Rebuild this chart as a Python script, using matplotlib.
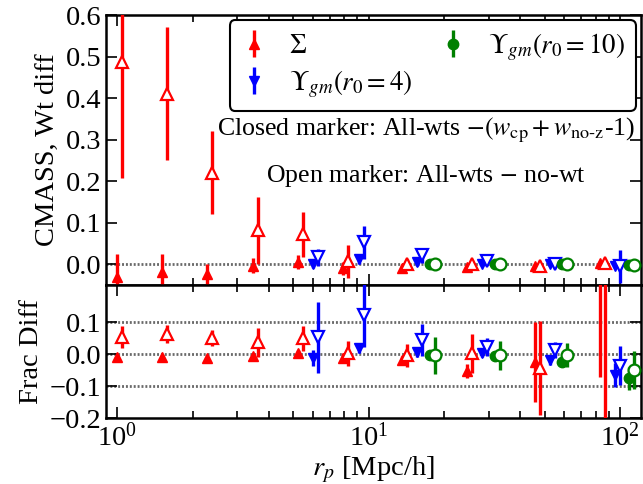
import numpy as np
import matplotlib
matplotlib.use("Agg")
import matplotlib.pyplot as plt
from matplotlib.ticker import MultipleLocator

plt.rcParams['font.family'] = ['Liberation Serif', 'DejaVu Serif']
plt.rcParams['mathtext.fontset'] = 'stix'

# ---- data ----
sig_rp = [1.0, 1.51, 2.28, 3.46, 5.22, 7.88, 13.6, 24.7, 45.7, 83.0]
sig_closed = [-0.030, -0.019, -0.024, -0.003, 0.005, -0.010, -0.010, -0.007, -0.003, 0.003]
sig_closed_err = [0.056, 0.043, 0.026, 0.018, 0.017, 0.015, 0.010, 0.006, 0.005, 0.005]
sig_open = [0.487, 0.41, 0.22, 0.082, 0.072, 0.007, 0.0, 0.002, -0.003, 0.003]
sig_open_err = [0.28, 0.16, 0.10, 0.08, 0.055, 0.04, 0.012, 0.008, 0.006, 0.006]

ups4_rp = [6.0, 9.13, 15.5, 28.3, 52.7, 95.5]
ups4_closed = [0.0, 0.012, 0.005, 0.002, 0.0, -0.003]
ups4_closed_err = [0.01, 0.012, 0.008, 0.005, 0.004, 0.003]
ups4_open = [0.017, 0.053, 0.022, 0.007, 0.0, -0.005]
ups4_open_err = [0.02, 0.04, 0.018, 0.008, 0.005, 0.04]

ups10_rp = [17.5, 31.9, 58.9, 108.6]
ups10_closed = [0.0, 0.0, 0.0, -0.002]
ups10_closed_err = [0.004, 0.003, 0.003, 0.002]
ups10_open = [0.0, 0.0, 0.0, -0.001]
ups10_open_err = [0.003, 0.003, 0.003, 0.002]

sig_closed_frac = [-0.008, -0.008, -0.012, -0.005, 0.003, -0.012, -0.018, -0.053, -0.025, 0.35]
sig_closed_frac_err = [0.005, 0.005, 0.005, 0.008, 0.01, 0.015, 0.012, 0.022, 0.125, 0.42]
sig_open_frac = [0.055, 0.064, 0.052, 0.038, 0.05, 0.003, -0.003, 0.003, -0.043, -0.5]
sig_open_frac_err = [0.035, 0.028, 0.025, 0.045, 0.038, 0.04, 0.037, 0.06, 0.148, 0.9]

ups4_closed_frac = [-0.012, 0.02, 0.007, 0.003, -0.018, -0.065]
ups4_closed_frac_err = [0.025, 0.016, 0.015, 0.012, 0.015, 0.037]
ups4_open_frac = [0.053, 0.123, 0.045, 0.023, 0.013, -0.035]
ups4_open_frac_err = [0.11, 0.1, 0.05, 0.028, 0.025, 0.06]

ups10_closed_frac = [-0.003, -0.005, -0.025, -0.075]
ups10_closed_frac_err = [0.015, 0.015, 0.015, 0.036]
ups10_open_frac = [-0.003, -0.003, -0.003, -0.05]
ups10_open_frac_err = [0.058, 0.046, 0.038, 0.06]

open_shift = 1.047

series = [
    (sig_rp, 'red', '^', r'$\Sigma$',
     sig_closed, sig_closed_err, sig_open, sig_open_err,
     sig_closed_frac, sig_closed_frac_err, sig_open_frac, sig_open_frac_err),
    (ups4_rp, 'blue', 'v', r'$\Upsilon_{gm}(r_0=4)$',
     ups4_closed, ups4_closed_err, ups4_open, ups4_open_err,
     ups4_closed_frac, ups4_closed_frac_err, ups4_open_frac, ups4_open_frac_err),
    (ups10_rp, 'green', 'o', r'$\Upsilon_{gm}(r_0=10)$',
     ups10_closed, ups10_closed_err, ups10_open, ups10_open_err,
     ups10_closed_frac, ups10_closed_frac_err, ups10_open_frac, ups10_open_frac_err),
]

fig = plt.figure(figsize=(6.43, 4.84), dpi=100)
gs = fig.add_gridspec(2, 1, height_ratios=[270, 133], hspace=0,
                      left=0.165, right=0.997, top=0.969, bottom=0.136)
ax1 = fig.add_subplot(gs[0])
ax2 = fig.add_subplot(gs[1], sharex=ax1)

ms = 7.5
lw = 2.4
handles = []
for (rp, c, m, lab, yc, ec, yo, eo, fc, fec, fo, feo) in series:
    rp = np.asarray(rp)
    h = ax1.errorbar(rp, yc, yerr=ec, fmt=m, color=c, ms=ms, lw=lw, capsize=0, label=lab, zorder=3)
    ax1.errorbar(rp * open_shift, yo, yerr=eo, fmt=m, color=c, mfc='white', mec=c, mew=1.6,
                 ms=ms + 1, lw=lw, capsize=0, zorder=3)
    ax2.errorbar(rp, fc, yerr=fec, fmt=m, color=c, ms=ms, lw=lw, capsize=0, zorder=3)
    ax2.errorbar(rp * open_shift, fo, yerr=feo, fmt=m, color=c, mfc='white', mec=c, mew=1.6,
                 ms=ms + 1, lw=lw, capsize=0, zorder=3)
    handles.append(h)

dot = (0, (0.7, 0.7))
ax1.axhline(0, color='dimgray', ls=dot, lw=2, zorder=1)
for yv in [0.1, 0.0, -0.1]:
    ax2.axhline(yv, color='dimgray', ls=dot, lw=2, zorder=1)

ax1.set_xscale('log')
ax1.set_xlim(0.904, 121)
ax1.set_ylim(-0.05, 0.6)
ax2.set_ylim(-0.2, 0.217)
ax1.yaxis.set_major_locator(MultipleLocator(0.1))
ax2.set_yticks([-0.2, -0.1, 0.0, 0.1])
ax1.set_ylabel('CMASS, Wt diff', fontsize=20.5)
ax2.set_ylabel('Frac Diff', fontsize=20.5)
ax2.set_xlabel(r'$r_p$ [Mpc/h]', fontsize=20.5, labelpad=2)
plt.setp(ax1.get_xticklabels(), visible=False)

for ax in (ax1, ax2):
    ax.tick_params(which='both', direction='in', top=True, right=True, labelsize=20.5)
    ax.tick_params(which='major', length=8, width=1.2)
    ax.tick_params(which='minor', length=5, width=1.2)
    for s in ax.spines.values():
        s.set_linewidth(1.8)

leg = ax1.legend(handles=handles, loc='upper right', ncol=2, fontsize=19.4,
                 frameon=True, fancybox=True, framealpha=1, edgecolor='black',
                 columnspacing=1.0, labelspacing=0.35, handlelength=1.0,
                 borderaxespad=0.2)
leg.get_frame().set_linewidth(1.5)

ax1.text(0.598, 0.574, r'Closed marker: All-wts $-(w_{\rm cp}+w_{\rm no\text{-}z}$-1)',
         transform=ax1.transAxes, ha='center', va='center', fontsize=18.6)
ax1.text(0.598, 0.404, r'Open marker: All-wts $-$ no-wt',
         transform=ax1.transAxes, ha='center', va='center', fontsize=18.6)

fig.savefig('out.png', dpi=100)
